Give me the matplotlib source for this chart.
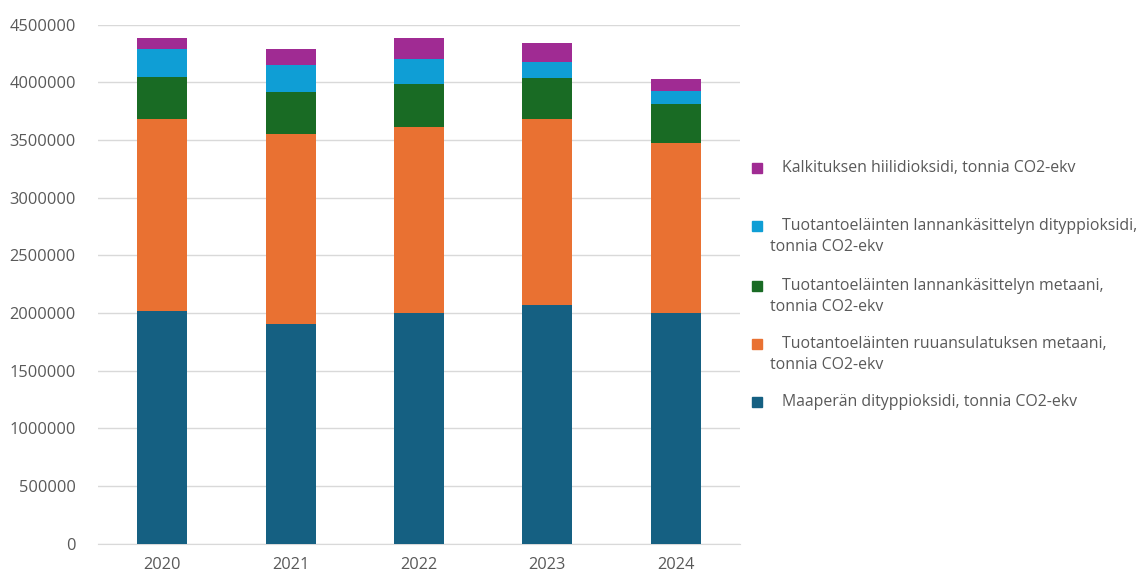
import matplotlib.pyplot as plt
import numpy as np
from matplotlib.patches import Rectangle

years = ["2020", "2021", "2022", "2023", "2024"]
maapera = [2017000, 1907000, 2002000, 2069000, 2002000]
ruuansulatus = [1665000, 1642000, 1613000, 1613000, 1474000]
lanta_metaani = [367000, 370000, 371000, 358000, 334000]
lanta_dityppi = [238000, 231000, 216000, 136000, 118000]
kalkitus = [95000, 137000, 180000, 163000, 98000]

series = [maapera, ruuansulatus, lanta_metaani, lanta_dityppi, kalkitus]
labels = [
    "Maaperän dityppioksidi, tonnia CO2-ekv",
    "Tuotantoeläinten ruuansulatuksen metaani,\ntonnia CO2-ekv",
    "Tuotantoeläinten lannankäsittelyn metaani,\ntonnia CO2-ekv",
    "Tuotantoeläinten lannankäsittelyn dityppioksidi,\ntonnia CO2-ekv",
    "Kalkituksen hiilidioksidi, tonnia CO2-ekv",
]
colors = ["#156082", "#E97132", "#196B24", "#0F9ED5", "#A02B93"]

plt.rcParams['font.family'] = ['Open Sans', 'DejaVu Sans']
txt = "#595959"
fs = 11.8
lfs = 11.4

fig = plt.figure(figsize=(11.48, 5.75), dpi=100)
ax = fig.add_axes([98/1148, 31.5/575, (740-98)/1148, (543.5-24.7)/575])

x = np.arange(len(years))
bottom = np.zeros(len(years))
for vals, c in zip(series, colors):
    ax.bar(x, vals, width=0.39, bottom=bottom, color=c, zorder=3)
    bottom += np.array(vals)

ax.set_xlim(-0.5, 4.5)
ax.set_ylim(0, 4500000)
ax.set_yticks(np.arange(0, 4500001, 500000))
ax.set_yticklabels([str(v) for v in range(0, 4500001, 500000)])
ax.set_xticks(x)
ax.set_xticklabels(years)
ax.yaxis.grid(True, color="#D9D9D9", linewidth=1, zorder=0)
for s in ["top", "right", "left"]:
    ax.spines[s].set_visible(False)
ax.spines["bottom"].set_color("#D9D9D9")
ax.tick_params(axis="both", length=0, colors=txt, labelsize=fs)
ax.tick_params(axis="y", pad=16)
ax.tick_params(axis="x", pad=10)

# legend drawn manually (top-to-bottom: reversed series order)
entry_y = [168, 226, 286, 344, 402]
for i, (lab, c) in enumerate(zip(labels[::-1], colors[::-1])):
    yc = entry_y[i]
    fig.patches.append(Rectangle((752/1148, 1 - (yc + 5)/575), 10/1148, 10/575,
                                 transform=fig.transFigure, color=c, figure=fig))
    lines = lab.split("\n")
    fig.text(782/1148, 1 - yc/575, lines[0], color=txt, fontsize=lfs, va="center", ha="left")
    if len(lines) > 1:
        fig.text(770/1148, 1 - (yc + 21)/575, lines[1], color=txt, fontsize=lfs, va="center", ha="left")

fig.savefig("out.png", dpi=100)
